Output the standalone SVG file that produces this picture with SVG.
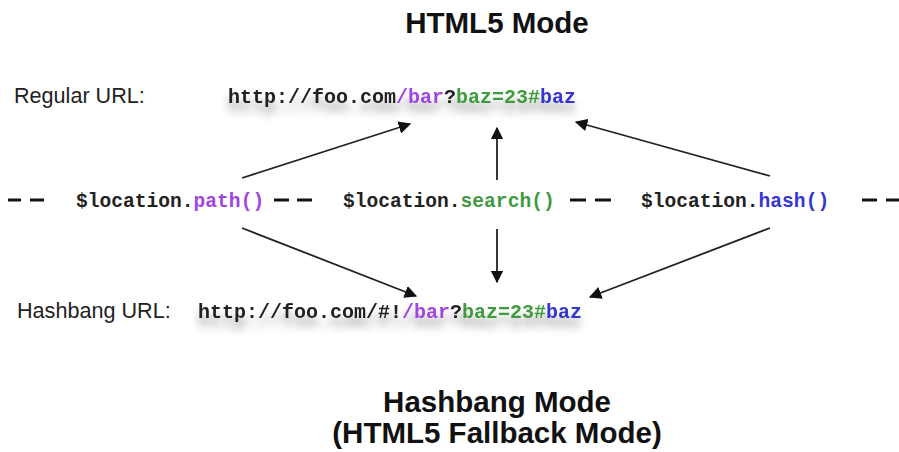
<svg xmlns="http://www.w3.org/2000/svg" width="899" height="452" viewBox="0 0 899 452">
  <style>
    .title { font-family: "Liberation Sans", Arial, sans-serif; font-weight: bold; font-size: 29.5px; fill: #111; text-anchor: middle; }
    .label { font-family: "Liberation Sans", Arial, sans-serif; font-size: 21.6px; fill: #222; }
    .code { font-family: "Liberation Mono", "Courier New", monospace; font-weight: bold; font-size: 20px; fill: #222; }
    .fn { font-family: "Liberation Mono", "Courier New", monospace; font-weight: bold; font-size: 19.6px; fill: #222; }
    .p { fill: #a045e0; }
    .g { fill: #3f9a3f; }
    .b { fill: #3535d0; }
    .dash { stroke: #111; stroke-width: 3; }
    .arrow { stroke: #222; stroke-width: 1.8; fill: none; marker-end: url(#ah); }
  </style>
  <defs>
    <marker id="ah" viewBox="0 0 10 10" refX="9" refY="5" markerWidth="7" markerHeight="7" markerUnits="strokeWidth" orient="auto">
      <path d="M0,0 L10,5 L0,10 Z" fill="#111"/>
    </marker>
    <filter id="sh" x="-10%" y="-50%" width="120%" height="250%">
      <feGaussianBlur in="SourceAlpha" stdDeviation="4"/>
      <feOffset dx="0" dy="9" result="o"/>
      <feFlood flood-color="#000" flood-opacity="0.35"/>
      <feComposite in2="o" operator="in"/>
      <feMerge><feMergeNode/><feMergeNode in="SourceGraphic"/></feMerge>
    </filter>
  </defs>
  <rect width="899" height="452" fill="#fff"/>

  <g id="title-html5"><text class="title" x="497" y="33">HTML5 Mode</text></g>

  <g id="regular-url">
    <text class="label" x="14" y="103">Regular URL:</text>
    <text class="code" x="228" y="103" filter="url(#sh)">http://foo.com<tspan class="p">/bar</tspan>?<tspan class="g">baz=23#</tspan><tspan class="b">baz</tspan></text>
  </g>

  <g id="dashes">
    <line class="dash" x1="8" y1="200" x2="21" y2="200"/>
    <line class="dash" x1="30" y1="200" x2="44" y2="200"/>
    <line class="dash" x1="274" y1="200" x2="289" y2="200"/>
    <line class="dash" x1="297" y1="200" x2="312" y2="200"/>
    <line class="dash" x1="570" y1="200" x2="586" y2="200"/>
    <line class="dash" x1="595" y1="200" x2="611" y2="200"/>
    <line class="dash" x1="862" y1="200" x2="877" y2="200"/>
    <line class="dash" x1="886" y1="200" x2="899" y2="200"/>
  </g>

  <g id="path-fn"><text class="fn" x="76" y="207">$location.<tspan class="p">path()</tspan></text></g>
  <g id="search-fn"><text class="fn" x="343" y="207">$location.<tspan class="g">search()</tspan></text></g>
  <g id="hash-fn"><text class="fn" x="641" y="207">$location.<tspan class="b">hash()</tspan></text></g>

  <g id="hashbang-url">
    <text class="label" x="17" y="318">Hashbang URL:</text>
    <text class="code" x="198" y="318" filter="url(#sh)">http://foo.com/#!<tspan class="p">/bar</tspan>?<tspan class="g">baz=23#</tspan><tspan class="b">baz</tspan></text>
  </g>

  <g id="connectors">
    <line class="arrow" x1="242" y1="178" x2="410" y2="124"/>
    <line class="arrow" x1="497" y1="180" x2="497" y2="128"/>
    <line class="arrow" x1="770" y1="176" x2="576" y2="122"/>
    <line class="arrow" x1="242" y1="228" x2="416" y2="296"/>
    <line class="arrow" x1="497" y1="229" x2="497" y2="282"/>
    <line class="arrow" x1="770" y1="228" x2="590" y2="297"/>
  </g>

  <g id="title-hashbang">
    <text class="title" x="497" y="412">Hashbang Mode</text>
    <text class="title" x="497" y="443">(HTML5 Fallback Mode)</text>
  </g>
</svg>
